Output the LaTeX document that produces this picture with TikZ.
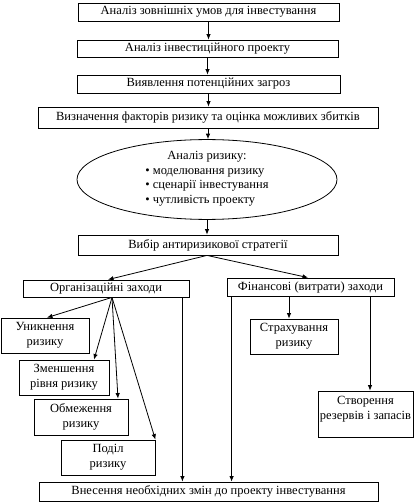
\documentclass[tikz,border=0pt]{standalone}
\usepackage{fontspec}
\setmainfont{Liberation Serif}
\usetikzlibrary{shapes.geometric,arrows.meta,calc}
\begin{document}
\begin{tikzpicture}[x=1pt,y=1pt,
  font=\fontsize{12.5}{15}\selectfont,
  box/.style={draw,line width=0.8pt,rectangle,inner sep=0pt,align=center},
  arr/.style={-{Latex[length=5.5pt,width=4.5pt]},line width=0.8pt},
  ln/.style={line width=0.8pt}]
\useasboundingbox (0,0) rectangle (417,-502);
\node[box,minimum width=261,minimum height=18] (b1) at (208.5,-12) {Аналіз зовнішніх умов для інвестування};
\node[box,minimum width=261,minimum height=17] (b2) at (207.5,-48.5) {Аналіз інвестиційного проекту};
\node[box,minimum width=263,minimum height=18] (b3) at (208.5,-84) {Виявлення потенційних загроз};
\node[box,minimum width=340,minimum height=21] (b4) at (208,-117.5) {Визначення факторів ризику та оцінка можливих збитків};
\node[draw,line width=0.8pt,ellipse,minimum width=260,minimum height=71,inner sep=0pt,align=center] (el) at (207,-179.5)
  {Аналіз ризику:\\[0.5pt]\begin{tabular}{@{}l@{}}• моделювання ризику\\[-0.5pt] • сценарії інвестування\\[-0.5pt] • чутливість проекту\end{tabular}};
\node[box,minimum width=260,minimum height=20] (b5) at (208,-245) {Вибір антиризикової стратегії};
\node[box,minimum width=166,minimum height=17] (org) at (106,-288.5) {Організаційні заходи};
\node[box,minimum width=167,minimum height=18] (fin) at (310.5,-287) {Фінансові (витрати) заходи};
\node[box,minimum width=88,minimum height=35] (unik) at (45,-335.5) {Уникнення\\ризику};
\node[box,minimum width=90,minimum height=35] (zmen) at (64,-377.5) {Зменшення\\рівня ризику};
\node[box,minimum width=94,minimum height=36] (obm) at (81,-417) {Обмеження\\ризику};
\node[box,minimum width=94,minimum height=35] (pod) at (108,-457.5) {Поділ\\ризику};
\node[box,minimum width=88,minimum height=35] (str) at (294,-336.5) {Страхування\\ризику};
\node[box,minimum width=95,minimum height=46] (stv) at (365.5,-414) {};
\node[align=center,anchor=north,inner sep=0pt] (stvt) at ([yshift=-5]stv.north) {Створення\\резервів і запасів};
\node[box,minimum width=339,minimum height=19] (bot) at (208.5,-491.5) {Внесення необхідних змін до проекту інвестування};
% main chain
\draw[arr] (b1.south) -- (b1.south |- b2.north);
\draw[arr] (b2.south) -- (b2.south |- b3.north);
\draw[arr] (b3.south) -- (b3.south |- b4.north);
\draw[arr] (b4.south) -- (b4.south |- el.north);
\draw[arr] (el.south) -- (el.south |- b5.north);
\coordinate (b5s) at ([xshift=-1]b5.south);
\draw[arr] (b5s) -- ([xshift=2]org.north);
\draw[arr] (b5s) -- ([xshift=-2.5,yshift=0]fin.north);
% organisational
\coordinate (os) at ([xshift=6]org.south);
\draw[arr] (os) -- ([xshift=2]unik.north);
\draw[arr] (os) -- ([xshift=30]zmen.north);
\draw[arr] (os) -- ([xshift=37]obm.north);
\draw[arr] (os) -- (pod.north east);
\draw[arr] ([xshift=-7]org.south east) -- ([xshift=-7]org.south east |- bot.north);
% financial
\draw[arr] ([xshift=5]fin.south west) -- ([xshift=5]fin.south west |- bot.north);
\draw[arr] ([xshift=-5]str.north |- fin.south) -- ([xshift=-5]str.north);
\draw[arr] ([xshift=4.5]stv.north |- fin.south) -- ([xshift=4.5]stv.north);
\end{tikzpicture}
\end{document}
